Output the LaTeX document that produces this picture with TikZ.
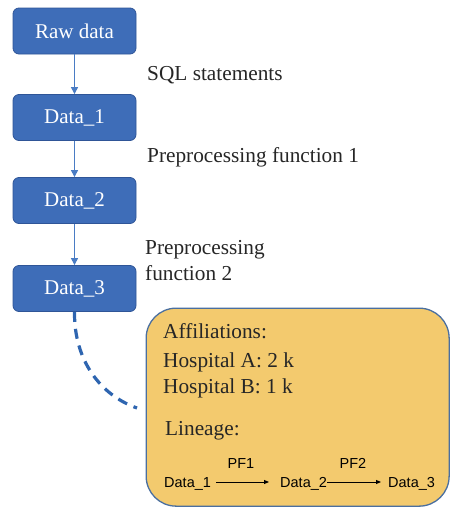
\documentclass[tikz,border=0pt]{standalone}
\usepackage{fontspec}
\setmainfont{Liberation Serif}
\setsansfont{Liberation Sans}
\usetikzlibrary{arrows.meta}
\definecolor{boxblue}{HTML}{3E6DB8}
\definecolor{boxedge}{HTML}{2F5597}
\definecolor{linkblue}{HTML}{4A7CC4}
\definecolor{dashblue}{HTML}{2E65B0}
\definecolor{gold}{HTML}{F3CA6E}
\definecolor{goldedge}{HTML}{4A6FA0}
\tikzset{
  databox/.style={draw=boxedge, line width=0.8pt, fill=boxblue, rounded corners=6pt,
    minimum width=123pt, minimum height=46pt, text=white, font=\fontsize{21}{24}\selectfont},
  flow/.style={draw=linkblue, line width=1pt, -{Triangle[length=7pt,width=7pt]}},
  note/.style={anchor=base west, inner sep=0pt, font=\fontsize{21.3}{24}\selectfont, text=black!85},
  lin/.style={anchor=base west, inner sep=0pt, font=\sffamily\fontsize{14.5}{16}\selectfont},
  linarrow/.style={draw=black, line width=0.9pt, -{Triangle[length=5pt,width=4pt]}}
}
\begin{document}
\begin{tikzpicture}[x=1pt, y=-1pt]
  \useasboundingbox (0,0) rectangle (450,507);

  % pipeline boxes
  \node[databox] (raw) at (74.5,31) {Raw data};
  \node[databox] (d1) at (74.5,117.5) {Data\_1};
  \node[databox] (d2) at (74.5,200.5) {Data\_2};
  \node[databox] (d3) at (74.5,288.5) {Data\_3};

  \draw[flow] (raw) -- (d1);
  \draw[flow] (d1) -- (d2);
  \draw[flow] (d2) -- (d3);

  % step labels
  \node[note] (sql) at (147,80) {SQL statements};
  \node[note] (pf1) at (147,162) {Preprocessing function 1};
  \node[note] (pf2a) at (145,254) {Preprocessing};
  \node[note] (pf2b) at (145,280) {function 2};

  % metadata card
  \node[draw=goldedge, line width=1.3pt, fill=gold, rounded corners=30pt,
        minimum width=303pt, minimum height=198pt, anchor=north west] (info) at (145.5,307.5) {};

  \node[note] (aff) at (163,338) {Affiliations:};
  \node[note] (ha) at (163,367) {Hospital A: 2 k};
  \node[note] (hb) at (163,393) {Hospital B: 1 k};
  \node[note] (lin) at (165,435) {Lineage:};

  \node[lin] (l1) at (164,487) {Data\_1};
  \node[lin] (l2) at (280,487) {Data\_2};
  \node[lin] (l3) at (388,487) {Data\_3};
  \coordinate (a1s) at (216,482);
  \coordinate (a1e) at (269,482);
  \coordinate (a2s) at (327,482);
  \coordinate (a2e) at (381,482);
  \draw[linarrow] (a1s) -- (a1e);
  \draw[linarrow] (a2s) -- (a2e);
  \node[lin, anchor=base] (p1) at (241,468) {PF1};
  \node[lin, anchor=base] (p2) at (353,468) {PF2};

  % dashed link from Data_3 to the card
  \coordinate (dend) at (137,408);
  \draw[dashblue, line width=3.2pt, dash pattern=on 10pt off 7pt]
    (d3.south) .. controls (74,360) and (100,395) .. (dend);
\end{tikzpicture}
\end{document}
